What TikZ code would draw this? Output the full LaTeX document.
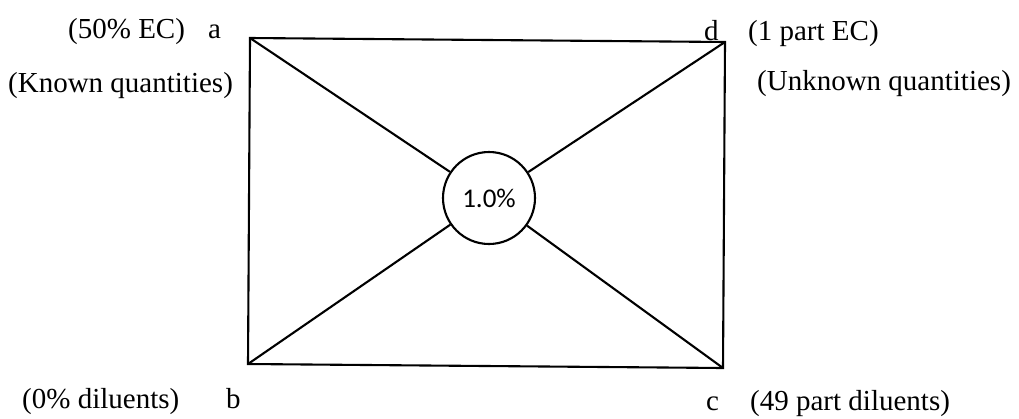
\documentclass[tikz,border=0pt]{standalone}
\usepackage{fontspec}
\setmainfont{Liberation Serif}
\newfontfamily\calib{Carlito}
\begin{document}
\begin{tikzpicture}[x=1pt,y=-1pt,
  lbl/.style={anchor=base west,inner sep=0pt,font=\fontsize{29}{32}\selectfont},
  edge/.style={line width=2.1pt,line join=miter},
  ring/.style={circle,draw,line width=2.1pt,minimum size=92pt,inner sep=0pt,font=\calib\fontsize{27}{30}\selectfont}]
\useasboundingbox (0,0) rectangle (1019,418);
\coordinate (a) at (250,38);
\coordinate (d) at (725,42);
\coordinate (c) at (723,368);
\coordinate (b) at (248,364);
\node[ring] (ctr) at (489,198) {1.0\%};
\draw[edge] (a) -- (d) -- (c) -- (b) -- cycle;
\draw[edge] (a) -- (ctr);
\draw[edge] (d) -- (ctr);
\draw[edge] (b) -- (ctr);
\draw[edge] (c) -- (ctr);
\node[lbl] (t1) at (68,38) {(50\% EC)};
\node[lbl] (la) at (208,38) {a};
\node[lbl] (t2) at (8,92) {(Known quantities)};
\node[lbl] (ld) at (704,40) {d};
\node[lbl] (t3) at (748,40) {(1 part EC)};
\node[lbl] (t4) at (757,90) {(Unknown quantities)};
\node[lbl] (t5) at (22,408) {(0\% diluents)};
\node[lbl] (lb) at (226,408) {b};
\node[lbl] (lc) at (706,410) {c};
\node[lbl] (t6) at (750,410) {(49 part diluents)};
\end{tikzpicture}
\end{document}
